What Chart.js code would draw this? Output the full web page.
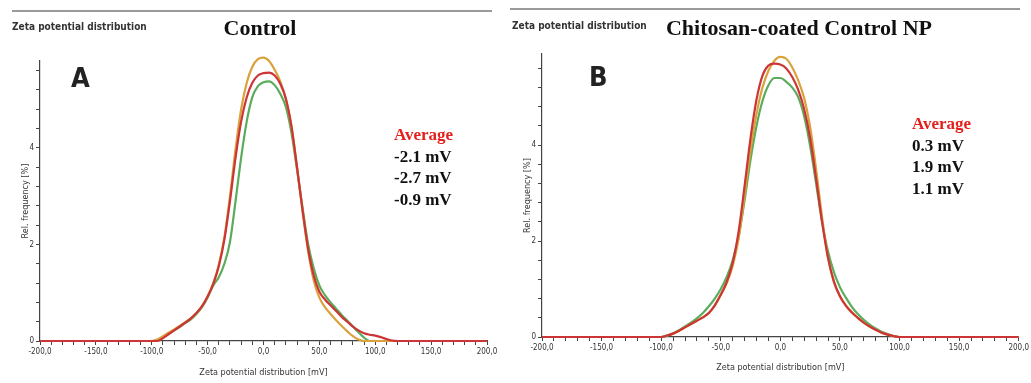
<!DOCTYPE html>
<html>
<head>
<meta charset="utf-8">
<script src="https://cdn.jsdelivr.net/npm/chart.js@4.4.1/dist/chart.umd.min.js"></script>
<style>
  body { margin: 0; width: 1031px; height: 383px; background: #fff; position: relative; overflow: hidden; }
  .panel { position: absolute; top: 0; height: 383px; }
  .rule { position: absolute; height: 2px; background: #9a9a9a; }
  .hdr { position: absolute; font: bold 10px "Liberation Sans Narrow", "DejaVu Sans Condensed", sans-serif; color: #333; }
  .ttl { position: absolute; font: bold 22px "Liberation Serif", serif; color: #111; white-space: nowrap; transform: translateX(-50%); }
  .tag { position: absolute; font: bold 27px "Liberation Sans Narrow", "DejaVu Sans Condensed", sans-serif; color: #222; }
  .avg { position: absolute; font: bold 17px "Liberation Serif", serif; line-height: 21.5px; color: #111; }
  .avg .head { color: #e3201b; }
</style>
</head>
<body>
<div class="rule" style="left:12px; top:10px; width:480px"></div>
<div class="rule" style="left:510px; top:8px; width:510px"></div>

<div class="panel" style="left:0; width:500px"><canvas id="ctrl"></canvas></div>
<div class="panel" style="left:500px; width:531px"><canvas id="chit"></canvas></div>

<div class="hdr" style="left:12px; top:21px">Zeta potential distribution</div>
<div class="hdr" style="left:512px; top:20px">Zeta potential distribution</div>
<div class="ttl" style="left:260px; top:15px">Control</div>
<div class="ttl" style="left:799px; top:15px">Chitosan-coated Control NP</div>
<div class="tag" style="left:71px; top:62px">A</div>
<div class="tag" style="left:589px; top:61px">B</div>

<div class="avg" style="left:394px; top:124px">
  <div class="head">Average</div>
  <div>-2.1 mV</div><div>-2.7 mV</div><div>-0.9 mV</div>
</div>
<div class="avg" style="left:912px; top:113px">
  <div class="head">Average</div>
  <div>0.3 mV</div><div>1.9 mV</div><div>1.1 mV</div>
</div>

<script>
// zeta potential grid [mV], shared by all runs
const mv = [-200, -100, -95, -90, -85, -80, -75, -70, -65, -60, -55, -50, -45, -40, -35, -30, -25, -20, -15, -10, -5,
  0, 5, 10, 15, 20, 25, 30, 35, 40, 45, 50, 55, 60, 65, 70, 75, 80, 85, 90, 95, 100, 105, 110, 115, 120, 200];

// Control - three runs, rel. frequency [%]
const ctrlRun1 = [0, 0, 0.03, 0.1, 0.17, 0.24, 0.31, 0.39, 0.47, 0.58, 0.72, 0.93, 1.2, 1.58, 2.15, 3.0, 3.98, 4.8, 5.35, 5.68, 5.84,
  5.87, 5.8, 5.62, 5.38, 5.02, 4.45, 3.6, 2.68, 1.85, 1.25, 0.9, 0.7, 0.56, 0.43, 0.31, 0.2, 0.1, 0.03, 0, 0, 0, 0, 0, 0, 0, 0];
const ctrlRun2 = [0, 0, 0, 0.06, 0.14, 0.22, 0.3, 0.38, 0.47, 0.58, 0.72, 0.92, 1.18, 1.55, 2.1, 2.9, 3.8, 4.55, 5.05, 5.35, 5.5,
  5.55, 5.56, 5.5, 5.33, 5.02, 4.45, 3.6, 2.7, 1.9, 1.35, 1.02, 0.86, 0.74, 0.62, 0.5, 0.4, 0.3, 0.22, 0.16, 0.13, 0.11, 0.08, 0.04, 0.01, 0, 0];
const ctrlRun3 = [0, 0, 0.02, 0.08, 0.15, 0.22, 0.29, 0.37, 0.45, 0.56, 0.7, 0.9, 1.15, 1.32, 1.6, 2.05, 2.9, 3.8, 4.55, 5.05, 5.28,
  5.36, 5.38, 5.3, 5.12, 4.85, 4.32, 3.55, 2.75, 2.0, 1.5, 1.15, 0.95, 0.8, 0.67, 0.54, 0.42, 0.3, 0.18, 0.07, 0, 0, 0, 0, 0, 0, 0];

// Chitosan-coated Control NP - three runs
const chitRun1 = [0, 0, 0.03, 0.07, 0.13, 0.2, 0.27, 0.34, 0.41, 0.5, 0.66, 0.88, 1.12, 1.48, 2.05, 2.95, 3.9, 4.65, 5.2, 5.55, 5.76,
  5.84, 5.8, 5.62, 5.35, 4.98, 4.38, 3.5, 2.5, 1.65, 1.15, 0.85, 0.66, 0.52, 0.4, 0.3, 0.22, 0.15, 0.09, 0.05, 0.02, 0, 0, 0, 0, 0, 0];
const chitRun2 = [0, 0, 0.03, 0.07, 0.13, 0.2, 0.27, 0.34, 0.41, 0.5, 0.66, 0.88, 1.15, 1.55, 2.2, 3.15, 4.15, 4.95, 5.45, 5.66, 5.7,
  5.68, 5.6, 5.42, 5.15, 4.75, 4.15, 3.3, 2.4, 1.65, 1.15, 0.85, 0.65, 0.51, 0.4, 0.3, 0.22, 0.15, 0.09, 0.05, 0.02, 0, 0, 0, 0, 0, 0];
const chitRun3 = [0, 0, 0.03, 0.08, 0.14, 0.22, 0.3, 0.39, 0.5, 0.64, 0.8, 1.0, 1.25, 1.6, 2.1, 2.85, 3.7, 4.4, 4.92, 5.25, 5.4,
  5.4, 5.32, 5.2, 5.0, 4.6, 3.98, 3.2, 2.4, 1.78, 1.35, 1.04, 0.82, 0.63, 0.48, 0.36, 0.26, 0.18, 0.11, 0.06, 0.02, 0, 0, 0, 0, 0, 0];

// orange, red, green as in the instrument export
const runColors = ["#d9a23c", "#cc3535", "#5aac5c"];

function series(vals) {
  return mv.map((x, i) => ({ x: x, y: vals[i] }));
}

function fmtComma(v) {
  return v.toFixed(1).replace(".", ",");
}

function zetaChart(id, runs, opt) {
  const tickFont = { family: "'Liberation Sans Narrow', 'DejaVu Sans Condensed', sans-serif", size: 8 };
  const ds = runs.map((r, k) => ({
    data: series(r),
    borderColor: runColors[k],
    borderWidth: 2.2,
    pointRadius: 0,
    fill: false,
    cubicInterpolationMode: "monotone",
    clip: false,
    order: k === 1 ? 0 : k + 1 // red run on top
  }));
  return new Chart(document.getElementById(id), {
    type: "line",
    data: { datasets: ds },
    options: {
      responsive: true,
      maintainAspectRatio: false,
      animation: false,
      layout: { padding: opt.padding },
      plugins: { legend: { display: false }, tooltip: { enabled: false } },
      scales: {
        x: {
          type: "linear",
          min: -200, max: 200,
          afterFit: s => { s.height = opt.xHeight },
          border: { color: "#444", width: 1.2 },
          grid: { drawOnChartArea: false, color: "#444", tickLength: 4 },
          ticks: {
            stepSize: 10, autoSkip: false, maxRotation: 0, color: "#333", font: tickFont, padding: 2,
            callback: v => (Math.round(v) % 50 === 0 ? fmtComma(v) : "")
          },
          title: { display: true, text: "Zeta potential distribution [mV]", color: "#333", font: { family: tickFont.family, size: 9 }, padding: opt.xTitlePad }
        },
        y: {
          min: 0, max: opt.yMax,
          afterFit: s => { s.width = 32 },
          border: { color: "#444", width: 1.2 },
          grid: { drawOnChartArea: false, color: "#444", tickLength: 4 },
          ticks: {
            stepSize: 0.4, includeBounds: false, autoSkip: false, color: "#333", font: tickFont, padding: 2,
            callback: v => (Math.abs(v / 2 - Math.round(v / 2)) < 1e-6 ? String(Math.round(v)) : "")
          },
          title: { display: true, text: "Rel. frequency [%]", color: "#333", font: { family: tickFont.family, size: 9 }, padding: 12 }
        }
      }
    }
  });
}

zetaChart("ctrl", [ctrlRun1, ctrlRun2, ctrlRun3], {
  padding: { left: 8, top: 61, right: 13, bottom: 0 }, xHeight: 42, yMax: 5.8, xTitlePad: 5
});
zetaChart("chit", [chitRun1, chitRun2, chitRun3], {
  padding: { left: 10, top: 54, right: 9, bottom: 0 }, xHeight: 46, yMax: 5.9, xTitlePad: 10
});
</script>
</body>
</html>
